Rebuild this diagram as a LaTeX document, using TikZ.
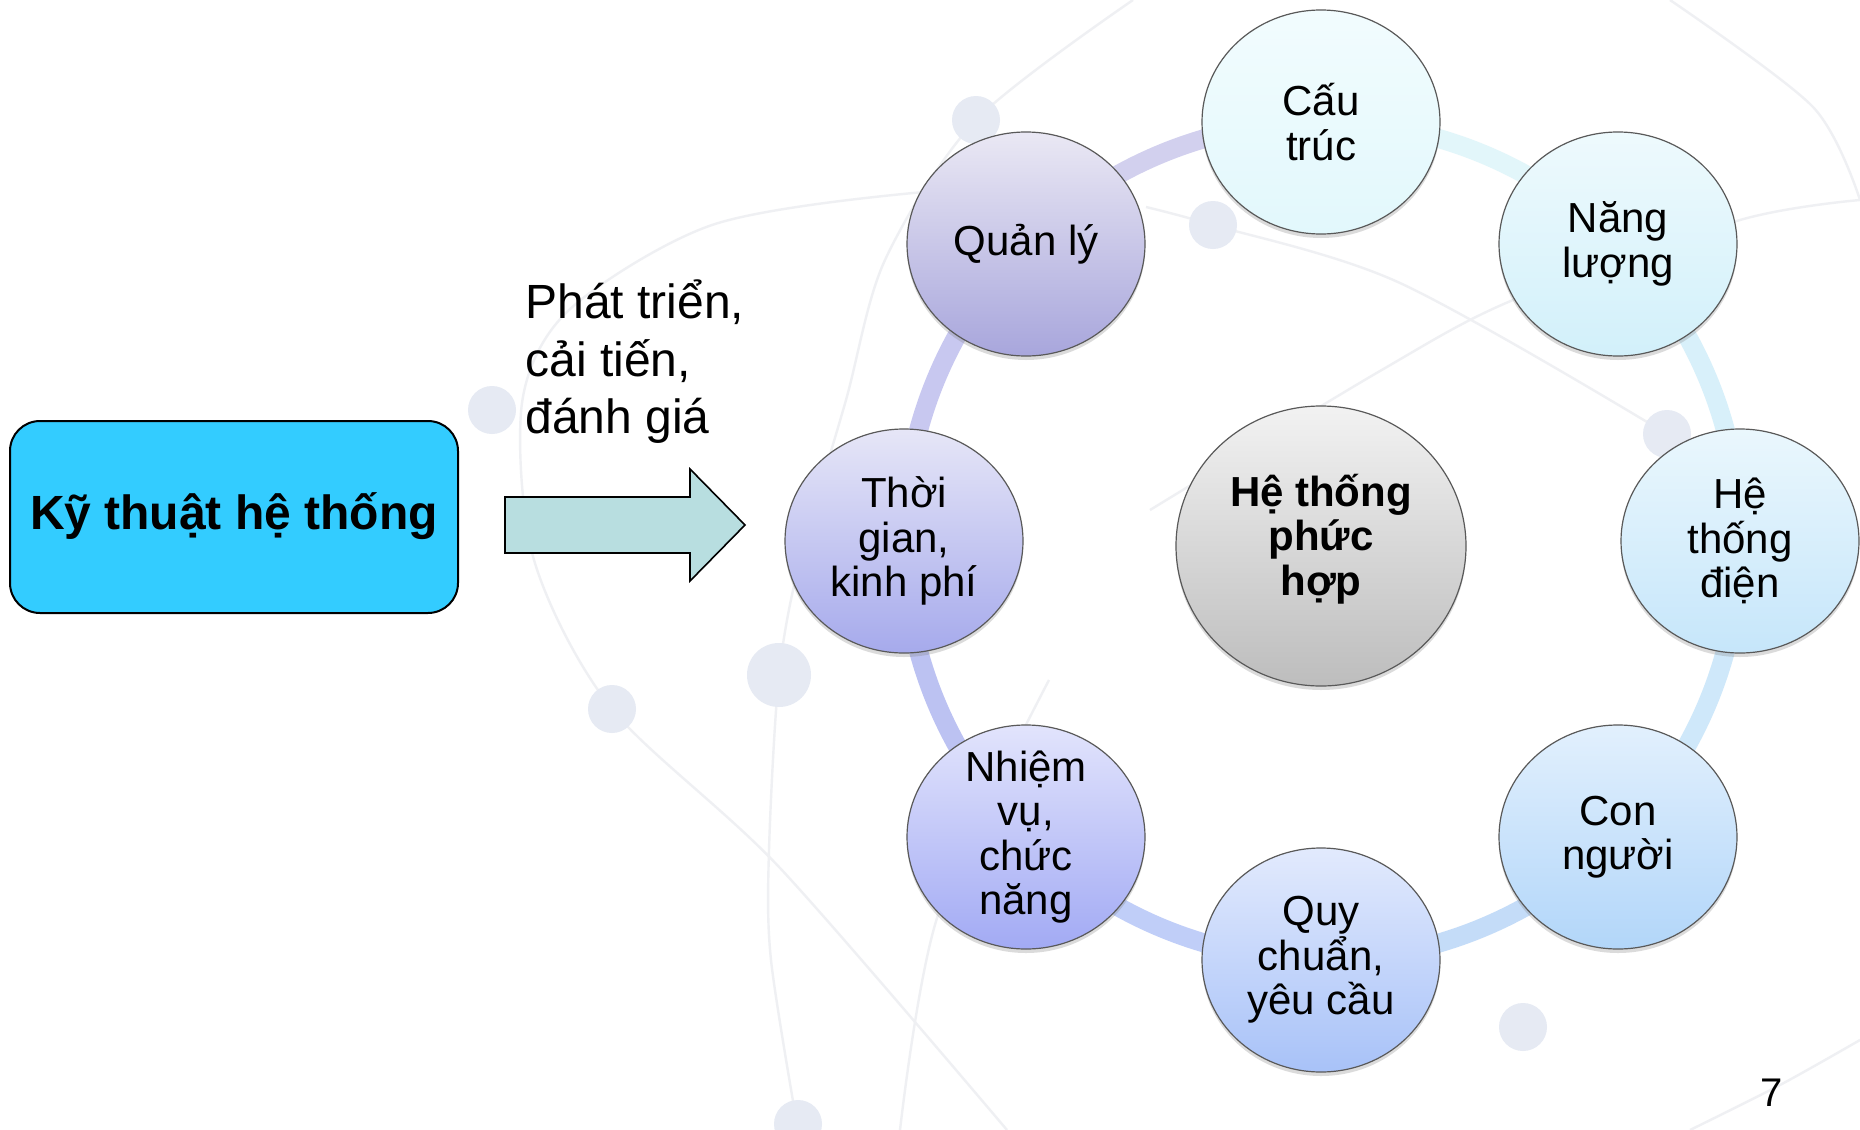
\documentclass[tikz,border=0pt]{standalone}
\usepackage{fontspec}
\setmainfont{Liberation Sans}
\usetikzlibrary{shapes.geometric,shadows,backgrounds}
\definecolor{boxcyan}{HTML}{33CCFF}
\definecolor{arrowfill}{HTML}{B8DEE0}
\definecolor{bgline}{HTML}{EFF0F3}
\definecolor{bgdot}{HTML}{E6EAF3}
% bubble gradients
\definecolor{cauT}{HTML}{F2FCFE}\definecolor{cauB}{HTML}{E2F8FC}
\definecolor{nangT}{HTML}{EEFAFD}\definecolor{nangB}{HTML}{D2F0FA}
\definecolor{htdT}{HTML}{EAF7FD}\definecolor{htdB}{HTML}{C6E6FA}
\definecolor{conT}{HTML}{E2F0FD}\definecolor{conB}{HTML}{B2D6F9}
\definecolor{quyT}{HTML}{E2EAFD}\definecolor{quyB}{HTML}{A8C2F8}
\definecolor{nhiT}{HTML}{E2E4FC}\definecolor{nhiB}{HTML}{A2AAF4}
\definecolor{thoT}{HTML}{E6E6F7}\definecolor{thoB}{HTML}{A6AAEC}
\definecolor{quaT}{HTML}{EAE8F4}\definecolor{quaB}{HTML}{A8A6DC}
\definecolor{ctrT}{HTML}{F2F2F2}\definecolor{ctrB}{HTML}{BDBDBD}
% ring segment colours
\definecolor{rA}{HTML}{D2D0EE}
\definecolor{rB}{HTML}{E2F6FA}
\definecolor{rC}{HTML}{D8F0FA}
\definecolor{rD}{HTML}{CFE8FA}
\definecolor{rE}{HTML}{C4DCF8}
\definecolor{rF}{HTML}{C0CEF8}
\definecolor{rG}{HTML}{BCC2F2}
\definecolor{rH}{HTML}{C8C8F0}
\tikzset{
  bub/.style={ellipse, draw=black!65, line width=0.6pt, minimum width=119pt,
    minimum height=112pt, inner sep=0pt,
    drop shadow={opacity=0.28, shadow xshift=0pt, shadow yshift=-2pt}},
  bubtext/.style={align=center, inner sep=0pt, font=\fontsize{21}{22.3}\selectfont},
  ringseg/.style={line width=9.5pt, draw=#1},
  bgln/.style={draw=bgline, line width=1.2pt},
  bgdt/.style={fill=bgdot},
}
\begin{document}
\begin{tikzpicture}[x=0.5pt,y=-0.5pt]
\useasboundingbox (0,0) rectangle (1860,1130);

% left box
\node[rectangle, rounded corners=15pt, minimum width=224pt, minimum height=96pt,
  fill=boxcyan, draw=black, line width=1pt, inner sep=0pt,
  font=\bfseries\fontsize{24}{28}\selectfont, text height=22.8pt, text depth=10.8pt]
  (kt) at (234,517) {Kỹ thuật hệ thống};

% block arrow
\path[fill=arrowfill, draw=black, line width=0.8pt]
  (505,497) -- (690,497) -- (690,469) -- (745,525) -- (690,581) -- (690,553) -- (505,553) -- cycle;

% label
\node[anchor=west, align=left, inner sep=0pt, font=\fontsize{24}{28.8}\selectfont]
  (lbl) at (525,362) {Phát triển,\\cải tiến,\\đánh giá};

% bubbles
\node[bub, top color=cauT, bottom color=cauB] (cau) at (1321,122) {};
\node[bub, top color=nangT, bottom color=nangB] (nang) at (1618,244) {};
\node[bub, top color=htdT, bottom color=htdB] (htd) at (1740,541) {};
\node[bub, top color=conT, bottom color=conB] (con) at (1618,837) {};
\node[bub, top color=quyT, bottom color=quyB] (quy) at (1321,960) {};
\node[bub, top color=nhiT, bottom color=nhiB] (nhi) at (1026,837) {};
\node[bub, top color=thoT, bottom color=thoB] (tho) at (904,541) {};
\node[bub, top color=quaT, bottom color=quaB] (qua) at (1026,244) {};
\node[bub, minimum width=145pt, minimum height=140pt, top color=ctrT, bottom color=ctrB] (ctr) at (1321,546) {};

\node[bubtext] (tcau) at (cau.center) {Cấu\\trúc};
\node[bubtext] (tnang) at (nang.center) {Năng\\lượng};
\node[bubtext] (thtd) at (htd.center) {Hệ\\thống\\điện};
\node[bubtext] (tcon) at (con.center) {Con\\người};
\node[bubtext] (tquy) at (quy.center) {Quy\\chuẩn,\\yêu cầu};
\node[bubtext] (tnhi) at (nhi.center) {Nhiệm\\vụ,\\chức\\năng};
\node[bubtext] (ttho) at (tho.center) {Thời\\gian,\\kinh phí};
\node[bubtext] (tqua) at (qua.center) {Quản lý};
\node[bubtext, font=\bfseries\fontsize{21}{22.3}\selectfont] (tctr) at (1321,539) {Hệ thống\\phức\\hợp};

% page number
\node[inner sep=0pt, font=\fontsize{20}{22}\selectfont] (pg) at (1772,1093) {7};

\begin{scope}[on background layer]
  \fill[white] (0,0) rectangle (1860,1130);
  % faint background decoration
  \draw[bgln] plot[smooth] coordinates {(1133,0) (976,120) (885,260) (846,400) (800,560) (779,675) (769,850) (771,960) (798,1130)};
  \draw[bgln] plot[smooth] coordinates {(1040,193) (913,193) (712,225) (569,310) (522,403) (534,560) (612,709) (780,868) (1007,1130)};
  \draw[bgln] plot[smooth] coordinates {(1146,207) (1213,225) (1400,283) (1667,434) (1760,500)};
  \draw[bgln] plot[smooth] coordinates {(1150,510) (1380,371) (1513,300) (1740,220) (1860,200)};
  \draw[bgln] plot[smooth] coordinates {(1670,0) (1813,107) (1860,200)};
  \draw[bgln] plot[smooth] coordinates {(1690,1130) (1780,1085) (1860,1040)};
  \draw[bgln] plot[smooth] coordinates {(1049,680) (938,915) (900,1130)};
  \fill[bgdt] (976,120) circle[radius=24];
  \fill[bgdt] (1213,225) circle[radius=24];
  \fill[bgdt] (492,410) circle[radius=24];
  \fill[bgdt] (779,675) circle[radius=32];
  \fill[bgdt] (612,709) circle[radius=24];
  \fill[bgdt] (1667,434) circle[radius=24];
  \fill[bgdt] (1523,1027) circle[radius=24];
  \fill[bgdt] (798,1124) circle[radius=24];
  % ring connecting the bubbles
  \draw[ringseg=rA] (qua.center) to[bend left=22.5, looseness=0.885] (cau.center);
  \draw[ringseg=rB] (cau.center) to[bend left=22.5, looseness=0.885] (nang.center);
  \draw[ringseg=rC] (nang.center) to[bend left=22.5, looseness=0.885] (htd.center);
  \draw[ringseg=rD] (htd.center) to[bend left=22.5, looseness=0.885] (con.center);
  \draw[ringseg=rE] (con.center) to[bend left=22.5, looseness=0.885] (quy.center);
  \draw[ringseg=rF] (quy.center) to[bend left=22.5, looseness=0.885] (nhi.center);
  \draw[ringseg=rG] (nhi.center) to[bend left=22.5, looseness=0.885] (tho.center);
  \draw[ringseg=rH] (tho.center) to[bend left=22.5, looseness=0.885] (qua.center);
\end{scope}
\end{tikzpicture}
\end{document}
